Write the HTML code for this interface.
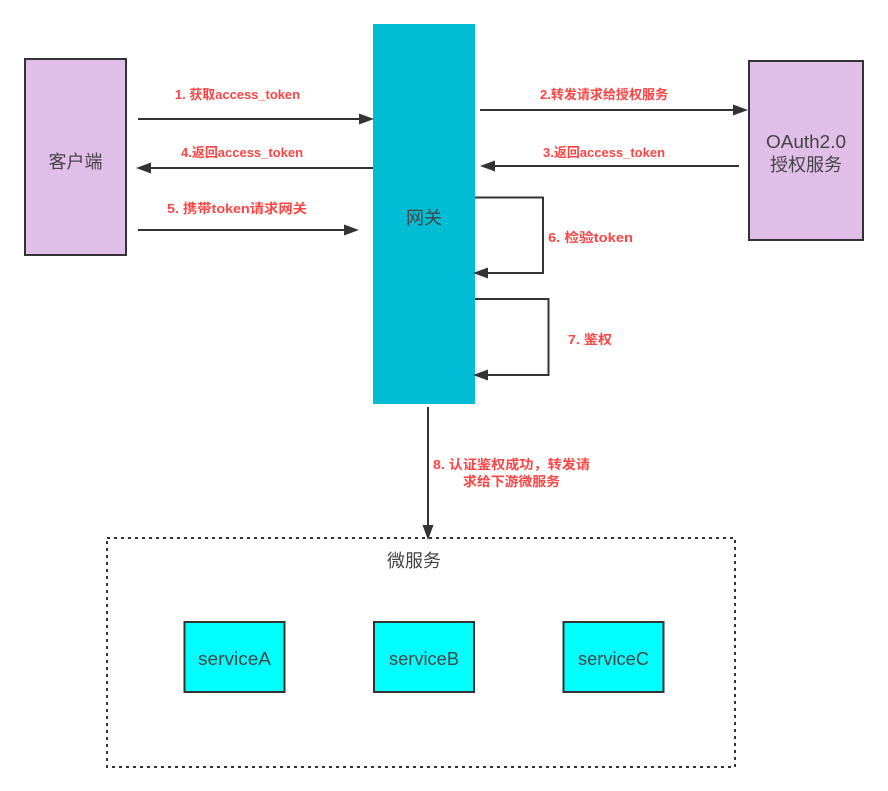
<!DOCTYPE html>
<html>
<head>
<meta charset="utf-8">
<style>
html,body{margin:0;padding:0;background:#fff;}
svg{display:block;}
text{font-family:"Liberation Sans","Noto Sans CJK SC",sans-serif;}
.n{font-size:18px;fill:#444;text-anchor:middle;}
.l{font-size:13px;font-weight:bold;fill:#f44;text-anchor:middle;}
.c{fill:none;stroke:#333;stroke-width:2;}
.a{fill:#333;}
.b{stroke:#333;stroke-width:2;}
</style>
</head>
<body>
<svg width="888" height="791" viewBox="0 0 888 791" xmlns="http://www.w3.org/2000/svg">
<rect width="888" height="791" fill="#fff"/>
<rect x="25" y="59" width="101" height="196" fill="#e1bee7" class="b"/>
<rect x="749" y="61" width="114" height="179" fill="#e1bee7" class="b"/>
<rect x="373" y="24" width="102" height="380" fill="#00bcd4"/>
<rect x="107" y="538" width="628" height="229" fill="none" stroke="#333" stroke-width="2" stroke-dasharray="3 4"/>
<rect x="184.500" y="622" width="100" height="70" fill="#0ff" class="b"/>
<rect x="374" y="622" width="100" height="70" fill="#0ff" class="b"/>
<rect x="563.500" y="622" width="100" height="70" fill="#0ff" class="b"/>

<path class="c" d="M138 119H360"/><path class="a" d="M374 119L359 113.500V124.500Z"/>
<path class="c" d="M373 168H150"/><path class="a" d="M136 168L151 162.500V173.500Z"/>
<path class="c" d="M138 230H346"/><path class="a" d="M359 230L344 224.500V235.500Z"/>
<path class="c" d="M480 110H735"/><path class="a" d="M748 110L733 104.500V115.500Z"/>
<path class="c" d="M739 166H494"/><path class="a" d="M480 166L495 160.500V171.500Z"/>
<path class="c" d="M475 197.500H543V273H487"/><path class="a" d="M473 273L488 267.500V278.500Z"/>
<path class="c" d="M475 299H548.500V375H487"/><path class="a" d="M473 375L488 369.500V380.500Z"/>
<path class="c" d="M428 407V526"/><path class="a" d="M428 540L422.500 525H433.500Z"/>

<text class="n" x="75.500" y="168">客户端</text>
<text class="n" x="424" y="224">网关</text>
<text class="n" x="806" y="148" textLength="80" lengthAdjust="spacingAndGlyphs">OAuth2.0</text>
<text class="n" x="806" y="171">授权服务</text>
<text class="n" x="414" y="567">微服务</text>
<text class="n" x="234.500" y="665" textLength="73" lengthAdjust="spacingAndGlyphs">serviceA</text>
<text class="n" x="424" y="665" textLength="70" lengthAdjust="spacingAndGlyphs">serviceB</text>
<text class="n" x="613.500" y="665" textLength="71" lengthAdjust="spacingAndGlyphs">serviceC</text>

<text class="l" x="237.500" y="99" textLength="125" lengthAdjust="spacingAndGlyphs">1. 获取access_token</text>
<text class="l" x="242" y="157" textLength="122" lengthAdjust="spacingAndGlyphs">4.返回access_token</text>
<text class="l" x="237" y="213" textLength="140" lengthAdjust="spacingAndGlyphs">5. 携带token请求网关</text>
<text class="l" x="604" y="99" textLength="128" lengthAdjust="spacingAndGlyphs">2.转发请求给授权服务</text>
<text class="l" x="604" y="157" textLength="122" lengthAdjust="spacingAndGlyphs">3.返回access_token</text>
<text class="l" x="590.500" y="242" textLength="85" lengthAdjust="spacingAndGlyphs">6. 检验token</text>
<text class="l" x="590" y="344" textLength="44" lengthAdjust="spacingAndGlyphs">7. 鉴权</text>
<text class="l" x="511.500" y="469" textLength="157" lengthAdjust="spacingAndGlyphs">8. 认证鉴权成功，转发请</text>
<text class="l" x="511.500" y="486" textLength="97" lengthAdjust="spacingAndGlyphs">求给下游微服务</text>
</svg>
</body>
</html>
